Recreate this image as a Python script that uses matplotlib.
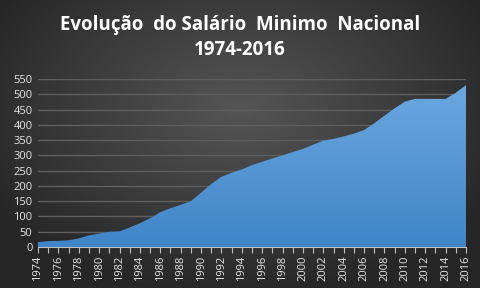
import numpy as np
import matplotlib
matplotlib.use("Agg")
import matplotlib.pyplot as plt
from matplotlib.colors import LinearSegmentedColormap

# Salario minimo nacional (euros)
years = list(range(1974, 2017))
salario = [16, 19.5, 20, 22, 28, 38, 44, 50, 51, 64,
           78, 94, 114, 127, 138, 150, 178, 206, 230, 243,
           254, 268, 279, 290, 300, 311, 321, 335, 348, 354,
           362, 371, 383, 405, 430, 454, 476, 485, 485, 485,
           485, 505, 530]
yticks = list(range(0, 551, 50))

plt.rcParams['font.family'] = ['Open Sans', 'DejaVu Sans']

fig = plt.figure(figsize=(4.8, 2.88), dpi=100)

# radial dark background
bg = fig.add_axes([0, 0, 1, 1], zorder=-10)
gx, gy = np.meshgrid(np.linspace(-1, 1, 480), np.linspace(-1, 1, 288))
r = np.sqrt((gx / 1.0) ** 2 + ((gy + 0.25) / 1.1) ** 2)
bg_cmap = LinearSegmentedColormap.from_list('bg', ['#555555', '#3e3e3e', '#262626'])
bg.imshow(np.clip(r, 0, 1.2), cmap=bg_cmap, aspect='auto', extent=[0, 1, 0, 1], origin='upper')
bg.axis('off')

ax = fig.add_axes([38 / 480, 41 / 288, 428 / 480, 168 / 288])
ax.patch.set_alpha(0)

x = np.array(years)
y = np.array(salario)
poly = ax.fill_between(x, y, 0, color='none', lw=0, zorder=3)
grad = np.linspace(0, 1, 256).reshape(-1, 1)
fill_cmap = LinearSegmentedColormap.from_list('fill', ['#3f85c7', '#6ea8e1'])
img = ax.imshow(grad, cmap=fill_cmap, aspect='auto', origin='lower',
                extent=[x[0], x[-1], 0, 550], zorder=3)
img.set_clip_path(poly.get_paths()[0], transform=ax.transData)

ax.set_xlim(1974, 2016)
ax.set_ylim(0, 550)
ax.set_yticks(yticks)
ax.yaxis.grid(True, color='#5e5e5e', lw=1)
ax.set_axisbelow(True)
ax.set_xticks(years)
ax.set_xticklabels([str(v) if v % 2 == 0 else '' for v in years], rotation=90)

for s in ['top', 'right', 'left']:
    ax.spines[s].set_visible(False)
ax.spines['bottom'].set_color('#bfbfbf')
ax.spines['bottom'].set_zorder(5)
ax.tick_params(axis='y', length=0, colors='#e6e6e6', labelsize=8, pad=4)
ax.tick_params(axis='x', length=4, color='#bfbfbf', colors='#e6e6e6', labelsize=8, pad=2)

fig.text(0.5, 0.913, 'Evolução  do Salário  Minimo  Nacional', ha='center', va='center',
         color='white', fontsize=13.5, fontweight='bold')
fig.text(0.5, 0.828, '1974-2016', ha='center', va='center',
         color='white', fontsize=13.5, fontweight='bold')

fig.savefig('out.png', dpi=100)
